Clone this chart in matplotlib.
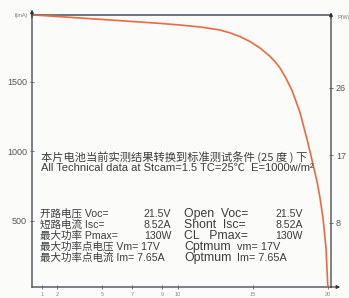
import numpy as np
import matplotlib
matplotlib.use("Agg")
import matplotlib.pyplot as plt

# I-V curve (V, mA)
volt = [0.33, 4.85, 8.8, 10.17, 11.5, 12.82, 13.5, 14.15, 14.82, 15.48, 16.15,
        16.5, 16.81, 17.2, 17.61, 17.9, 18.14, 18.4, 18.6, 18.94, 19.27,
        19.47, 19.67, 19.87, 20.0]
curr = [1982, 1950, 1921, 1909, 1895, 1873, 1852, 1826, 1790, 1744, 1683,
        1643, 1600, 1528, 1438, 1352, 1280, 1172, 1090, 937, 784,
        665, 518, 302, 4]

x_ticks = [1, 2, 5, 7, 9, 10, 15, 20]
i_ticks = [500, 1000, 1500]
p_ticks = [8, 17, 26]

header_cn = "本片电池当前实测结果转换到标准测试条件 (25 度 ) 下"
header_en = "All Technical data at Stcam=1.5 TC=25℃  E=1000w/m²"
left_labels = ["开路电压 Voc=", "短路电流 Isc=", "最大功率 Pmax=",
               "最大功率点电压 Vm= 17V", "最大功率点电流 Im= 7.65A"]
left_values = ["21.5V", "8.52A", "130W", "", ""]
right_labels = ["Open  Voc=", "Shont  Isc=", "CL   Pmax=", "Cptmum", "Optmum"]
right_mid = ["", "", "", "vm= 17V", "Im= 7.65A"]
right_values = ["21.5V", "8.52A", "130W", "", ""]

W, H = 349, 298
fig = plt.figure(figsize=(W / 100, H / 100), dpi=100, facecolor="#fbfbfa")
ax = fig.add_axes([32 / W, 1 - 287 / H, (331 - 32) / W, (287 - 15) / H])
ax.set_facecolor("#fbfbfa")

axis_col = "#5a5e66"
ax.plot(volt, curr, color="#ec6a40", lw=1.2, solid_capstyle="round",
        solid_joinstyle="round", zorder=3)

ax.set_xlim(0.33, 20.2)
ax.set_ylim(25, 1981)
for s in ["left", "bottom", "right", "top"]:
    ax.spines[s].set_color(axis_col)
    ax.spines[s].set_linewidth(1.1)
ax.spines["top"].set_color("#4a505c")

ax.set_xticks(x_ticks)
ax.set_xticklabels([str(t) for t in x_ticks], fontsize=4, color="#888888",
                   family="Liberation Sans")
ax.tick_params(axis="x", direction="inout", length=3, width=0.6, colors=axis_col,
               pad=2, labelcolor="#888888")
ax.set_yticks(i_ticks)
ax.set_yticklabels([str(t) for t in i_ticks], fontsize=6.5, family="Liberation Sans",
                   color="#555555")
ax.tick_params(axis="y", direction="inout", length=3, width=0.6, colors=axis_col,
               pad=2, labelcolor="#555555")

ax2 = ax.twinx()
ax2.set_ylim(-0.53, 35.7)
ax2.set_yticks(p_ticks)
ax2.set_yticklabels([str(t) for t in p_ticks], fontsize=6.5, family="Liberation Sans",
                    color="#555555")
ax2.tick_params(axis="y", direction="inout", length=3, width=0.6, colors=axis_col,
                pad=2, labelcolor="#555555")
for s in ax2.spines.values():
    s.set_visible(False)

# axis arrows
ax.annotate("", xy=(0, 1.03), xytext=(0, 0.98), xycoords="axes fraction",
            arrowprops=dict(arrowstyle="-|>", color="#333333", lw=0.8,
                            mutation_scale=5), annotation_clip=False)
ax.annotate("", xy=(1.0, 1.02), xytext=(1.0, 0.98), xycoords="axes fraction",
            arrowprops=dict(arrowstyle="-|>", color="#333333", lw=0.8,
                            mutation_scale=5), annotation_clip=False)
ax.annotate("", xy=(1.04, 0), xytext=(0.99, 0), xycoords="axes fraction",
            arrowprops=dict(arrowstyle="-|>", color="#333333", lw=0.8,
                            mutation_scale=5), annotation_clip=False)

def ft(px, py, s, size, family, ha="left", color="#3c3c3c"):
    fig.text(px / W, 1 - py / H, s, fontsize=size, family=family, ha=ha,
             va="center", color=color)

sans = ["Liberation Sans", "Noto Sans CJK SC"]
cjk = ["Noto Sans CJK SC", "DejaVu Sans"]

ft(28, 15, "I(mA)", 4, sans, ha="right", color="#777777")
ft(337, 17, "P(W)", 4, sans, color="#777777")

ft(41, 157, header_cn, 8.1, cjk)
ft(41, 168, header_en, 8.0, sans)

rows_y = [214, 225, 236, 247, 258]
for i, y in enumerate(rows_y):
    ft(40, y, left_labels[i], 7.6, sans)
    if left_values[i]:
        ft(144, y, left_values[i], 7.6, sans)
    ft(184, y, right_labels[i], 8.8, sans)
    if right_mid[i]:
        ft(237, y, right_mid[i], 7.8, sans)
    if right_values[i]:
        ft(275, y, right_values[i], 7.6, sans)

fig.savefig("out.png", dpi=100, facecolor=fig.get_facecolor())
